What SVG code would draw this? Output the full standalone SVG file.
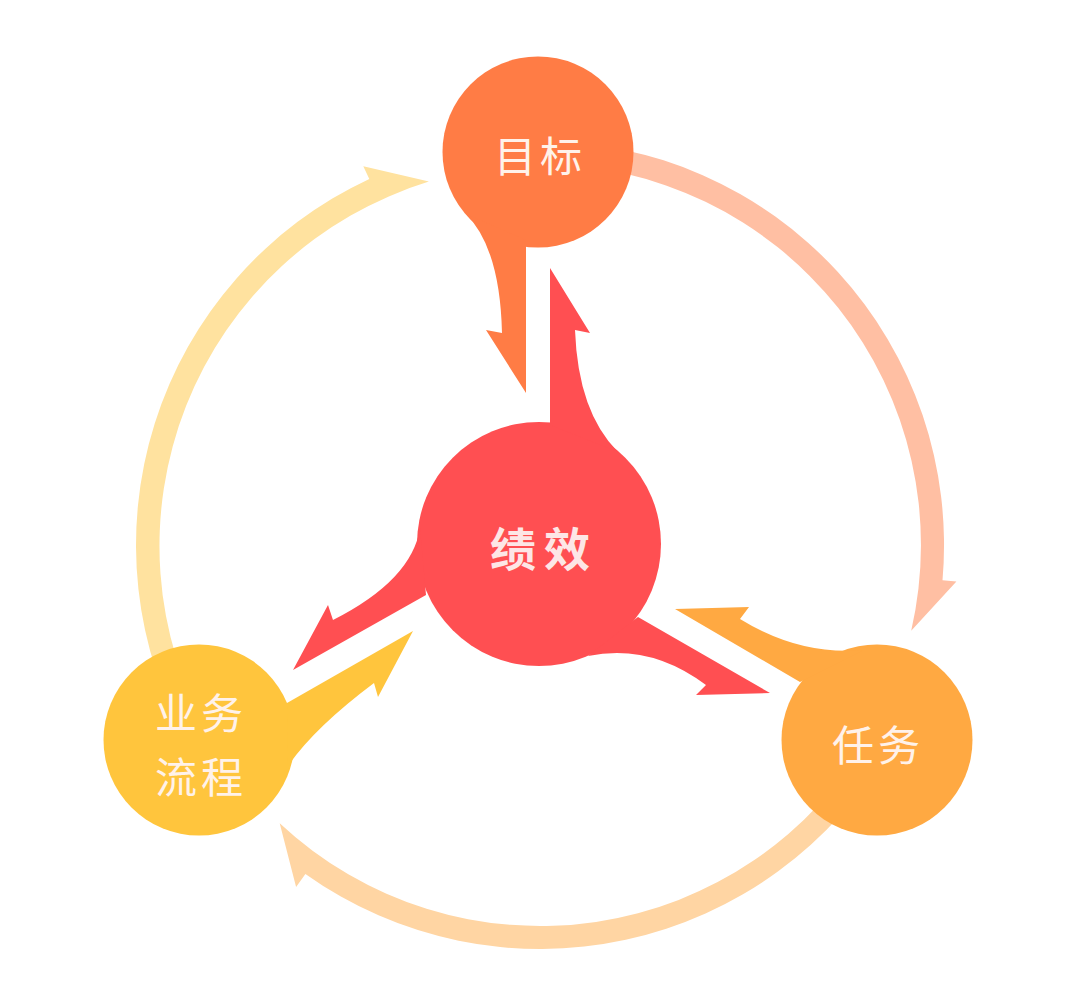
<svg xmlns="http://www.w3.org/2000/svg" width="1080" height="1007" viewBox="0 0 1080 1007">
<style>
.lbl{font-family:"Noto Sans CJK SC","Noto Sans",sans-serif;font-size:42px;fill:#FFF2EA;text-anchor:middle;letter-spacing:4px}
.big{font-family:"Noto Sans CJK SC","Noto Sans",sans-serif;font-size:46px;font-weight:bold;fill:#FDE6E6;text-anchor:middle;letter-spacing:8px}
</style>
<rect width="1080" height="1007" fill="#FFFFFF"/>
<g id="connectors">
<path id="ring-target-task" fill="#FFBFA3" d="M540 141 A404 404 0 0 1 942.5 580.2 L956.4 581.4 L911.2 630.7 A381 381 0 0 0 540 164 Z"/>
<path id="ring-task-process" fill="#FFD5A3" d="M889.9 747 A404 404 0 0 1 305.4 873.9 L296.1 886.9 L279.7 823.2 A381 381 0 0 0 870 735.5 Z"/>
<path id="ring-process-target" fill="#FFE29F" d="M190.1 747 A404 404 0 0 1 369.3 178.9 L363.3 166.2 L428.9 181.6 A381 381 0 0 0 210 735.5 Z"/>
</g>
<g id="node-target" fill="#FF7C45">
<circle cx="538" cy="152" r="95.5"/>
<path d="M466 214 Q500 248 502 333 L486 330 L526 393 L526 240 Z"/>
<text class="lbl" x="540" y="172">目标</text>
</g>
<g id="node-task" fill="#FFA942">
<circle cx="877" cy="740" r="95.5"/>
<path d="M800 682 L675 609 L749 607 L740 619 Q800 656 864 650 Z"/>
<text class="lbl" x="878" y="761">任务</text>
</g>
<g id="node-process" fill="#FFC53D">
<circle cx="199" cy="740" r="95.5"/>
<path d="M287 703 L413 631 L378 697 L374 683 Q314 728 288 766 Z"/>
<text class="lbl" x="201" y="729">业务</text>
<text class="lbl" x="201" y="793">流程</text>
</g>
<g id="node-performance" fill="#FF4F52">
<circle cx="539" cy="544" r="122"/>
<path d="M550 425 L550 268 L590 333 L575 330 Q578 412 618 452 Z"/>
<path d="M420 528 Q412 580 333 620 L328 605 L293 670 L426 595 Z"/>
<path d="M638 617 L770 693 L696 695 L706 685 Q650 643 588 656 Z"/>
<text class="big" x="544" y="566">绩效</text>
</g>
</svg>
